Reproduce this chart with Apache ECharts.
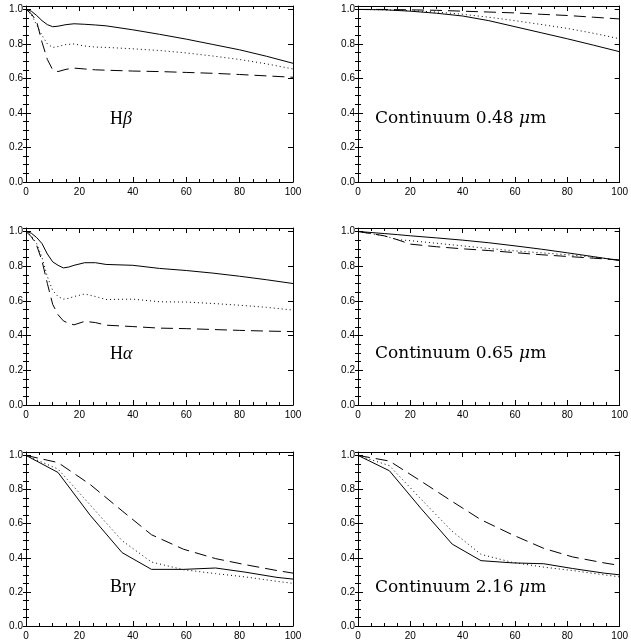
<!DOCTYPE html>
<html><head><meta charset="utf-8">
<script src="https://cdn.jsdelivr.net/npm/echarts@6/dist/echarts.min.js"></script>
<style>html,body{margin:0;padding:0;background:#fff}#c{width:631px;height:641px}</style>
</head><body><div id="c"></div>
<script>
// ---- tick values ----
const xTickValues = [0, 20, 40, 60, 80, 100];
const yTickValues = [0.0, 0.2, 0.4, 0.6, 0.8, 1.0];

// ---- H beta ----
const hbX      = [0, 2, 4, 6, 8, 10, 12, 15, 18, 22, 26, 30, 40, 50, 60, 70, 80, 90, 100];
const hbSolid  = [1.0, 0.99, 0.965, 0.935, 0.912, 0.9, 0.903, 0.912, 0.917, 0.914, 0.91, 0.905, 0.882, 0.856, 0.828, 0.797, 0.766, 0.729, 0.688];
const hbDotted = [1.0, 0.97, 0.91, 0.85, 0.80, 0.78, 0.785, 0.797, 0.80, 0.788, 0.782, 0.78, 0.772, 0.762, 0.748, 0.73, 0.71, 0.685, 0.655];
const hbDashed = [1.0, 0.975, 0.93, 0.81, 0.71, 0.65, 0.64, 0.653, 0.66, 0.655, 0.65, 0.648, 0.643, 0.64, 0.635, 0.63, 0.623, 0.615, 0.607];

// ---- Continuum 0.48 um ----
const c48X      = [0, 10, 20, 30, 40, 50, 60, 70, 80, 90, 100];
const c48Solid  = [1.0, 0.998, 0.99, 0.978, 0.962, 0.935, 0.90, 0.865, 0.83, 0.793, 0.755];
const c48Dotted = [1.0, 0.998, 0.993, 0.985, 0.972, 0.955, 0.935, 0.913, 0.89, 0.862, 0.83];
const c48Dashed = [1.0, 1.0, 0.998, 0.995, 0.99, 0.985, 0.98, 0.972, 0.965, 0.955, 0.945];

// ---- H alpha ----
const haX      = [0, 2, 4, 6, 8, 10, 12, 14, 16, 18, 22, 26, 30, 40, 50, 60, 70, 80, 90, 100];
const haSolid  = [1.0, 0.99, 0.965, 0.93, 0.87, 0.825, 0.805, 0.79, 0.795, 0.805, 0.82, 0.82, 0.81, 0.805, 0.787, 0.775, 0.76, 0.742, 0.722, 0.70];
const haDotted = [1.0, 0.975, 0.93, 0.85, 0.74, 0.66, 0.625, 0.61, 0.615, 0.625, 0.64, 0.625, 0.608, 0.61, 0.595, 0.593, 0.585, 0.575, 0.563, 0.547];
const haDashed = [1.0, 0.97, 0.92, 0.83, 0.70, 0.58, 0.52, 0.485, 0.47, 0.462, 0.482, 0.475, 0.46, 0.452, 0.443, 0.44, 0.435, 0.43, 0.426, 0.423];

// ---- Continuum 0.65 um ----
const c65X      = [0, 10, 15, 20, 30, 40, 50, 60, 70, 80, 90, 100];
const c65Solid  = [1.0, 0.988, 0.982, 0.975, 0.963, 0.95, 0.935, 0.917, 0.898, 0.877, 0.855, 0.832];
const c65Dotted = [1.0, 0.975, 0.953, 0.947, 0.932, 0.917, 0.902, 0.888, 0.877, 0.866, 0.852, 0.835];
const c65Dashed = [1.0, 0.975, 0.953, 0.927, 0.912, 0.90, 0.89, 0.878, 0.866, 0.856, 0.846, 0.836];

// ---- Br gamma ----
const brX      = [0, 12, 24, 36, 47, 59, 71, 82, 94, 100];
const brSolid  = [1.0, 0.90, 0.65, 0.43, 0.332, 0.332, 0.34, 0.316, 0.285, 0.275];
const brDotted = [1.0, 0.92, 0.71, 0.50, 0.375, 0.33, 0.307, 0.288, 0.262, 0.25];
const brDashed = [1.0, 0.958, 0.83, 0.675, 0.535, 0.45, 0.395, 0.36, 0.325, 0.31];

// ---- Continuum 2.16 um ----
const c216X      = [0, 12, 24, 36, 47, 59, 71, 82, 94, 100];
const c216Solid  = [1.0, 0.91, 0.69, 0.48, 0.383, 0.37, 0.365, 0.337, 0.31, 0.30];
const c216Dotted = [1.0, 0.94, 0.745, 0.555, 0.42, 0.373, 0.345, 0.325, 0.30, 0.288];
const c216Dashed = [1.0, 0.967, 0.85, 0.73, 0.623, 0.535, 0.455, 0.405, 0.37, 0.355];

// ---- panel labels ----
const panelLabels = ['{r|H}{i|β}', '{t|Continuum 0.48 }{g|μ}{t|m}', '{r|H}{i|α}', '{t|Continuum 0.65 }{g|μ}{t|m}', '{r|Br}{i|γ}', '{t|Continuum 2.16 }{g|μ}{t|m}'];

const panels = [
  [hbX, hbSolid, hbDotted, hbDashed],
  [c48X, c48Solid, c48Dotted, c48Dashed],
  [haX, haSolid, haDotted, haDashed],
  [c65X, c65Solid, c65Dotted, c65Dashed],
  [brX, brSolid, brDotted, brDashed],
  [c216X, c216Solid, c216Dotted, c216Dashed]
];

// ---- layout (styling, not data) ----
const layout = [
  {left: 26, top: 6, width: 267, height: 176},
  {left: 358, top: 6, width: 268, height: 176},
  {left: 26, top: 228, width: 267, height: 177},
  {left: 358, top: 228, width: 268, height: 177},
  {left: 26, top: 452, width: 267, height: 176},
  {left: 358, top: 452, width: 268, height: 176}
];
const labelPos = [[110, 119], [375, 119], [110, 354], [375, 354], [110, 587], [375, 588]];

const ink = '#000';
const lineStyles = [
  {type: 'solid'},
  {type: [1, 3]},
  {type: [12, 6]}
];

const grids = [], xAxes = [], yAxes = [], series = [], graphics = [];
const isMajorY = v => Math.abs(v * 5 - Math.round(v * 5)) < 1e-6;

panels.forEach((p, i) => {
  grids.push(Object.assign({containLabel: false}, layout[i]));
  const xBase = {
    type: 'value', gridIndex: i, min: xTickValues[0], max: xTickValues[xTickValues.length - 1],
    interval: xTickValues[1] - xTickValues[0],
    splitLine: {show: false},
    axisLine: {show: true, onZero: false, lineStyle: {color: ink, width: 1}},
    axisTick: {show: true, inside: true, length: 5, lineStyle: {color: ink}},
    minorTick: {show: true, splitNumber: 4, length: 3, lineStyle: {color: ink}},
  };
  xAxes.push(Object.assign({}, xBase, {
    position: 'bottom',
    axisLabel: {show: true, margin: 5, color: '#000', fontFamily: 'Liberation Sans', fontSize: 10}
  }));
  xAxes.push(Object.assign({}, xBase, {position: 'top', axisLabel: {show: false}}));

  const yBase = {
    type: 'value', gridIndex: i, min: 0, max: 1.02, interval: 0.2,
    splitLine: {show: false},
    axisLine: {show: true, onZero: false, lineStyle: {color: ink, width: 1}},
    axisTick: {show: true, inside: true, length: 5, lineStyle: {color: ink}},
  };
  yAxes.push(Object.assign({}, yBase, {
    position: 'left',
    axisLabel: {show: true, margin: 3, color: '#000', fontFamily: 'Liberation Sans', fontSize: 10,
      formatter: v => isMajorY(v) ? v.toFixed(1) : ''}
  }));
  yAxes.push(Object.assign({}, yBase, {position: 'right', axisLabel: {show: false}}));
  const yMinor = Object.assign({}, yBase, {
    interval: 0.05, axisLine: {show: false}, axisLabel: {show: false},
    axisTick: {show: true, inside: true, length: 3, lineStyle: {color: ink}}
  });
  yAxes.push(Object.assign({}, yMinor, {position: 'left'}));
  yAxes.push(Object.assign({}, yMinor, {position: 'right'}));

  const xs = p[0];
  for (let s = 0; s < 3; s++) {
    const ys = p[s + 1];
    series.push({
      type: 'line', xAxisIndex: 2 * i, yAxisIndex: 4 * i,
      data: xs.map((x, k) => [x, ys[k]]),
      showSymbol: false, symbol: 'none', smooth: false,
      lineStyle: Object.assign({color: ink, width: 1}, lineStyles[s]),
      silent: true, z: 3
    });
  }

  graphics.push({
    type: 'text', x: labelPos[i][0], y: labelPos[i][1], z: 10,
    style: {
      text: panelLabels[i], fill: ink, verticalAlign: 'middle', align: 'left',
      rich: {
        r: {fontFamily: 'Liberation Serif', fontSize: 18, fill: ink},
        i: {fontFamily: 'Liberation Serif', fontSize: 18, fontStyle: 'italic', fill: ink},
        t: {fontFamily: 'DejaVu Serif', fontSize: 17, fill: ink},
        g: {fontFamily: 'DejaVu Serif', fontSize: 17, fontStyle: 'italic', fill: ink}
      }
    }
  });
});

const chart = echarts.init(document.getElementById('c'), null, {renderer: 'canvas'});
chart.setOption({
  animation: false,
  backgroundColor: '#fff',
  grid: grids, xAxis: xAxes, yAxis: yAxes, series: series,
  graphic: graphics
});
</script>
</body></html>
